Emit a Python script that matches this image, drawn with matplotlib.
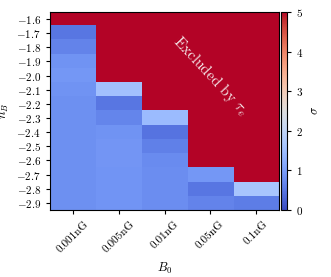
import numpy as np
import matplotlib
matplotlib.use("Agg")
import matplotlib.pyplot as plt

plt.rcParams['mathtext.fontset'] = 'cm'
plt.rcParams['font.family'] = 'serif'
plt.rcParams['font.serif'] = ['cmr10', 'DejaVu Serif']
plt.rcParams['axes.unicode_minus'] = False

b0_labels = ['0.001nG', '0.005nG', '0.01nG', '0.05nG', '0.1nG']
nb_values = [-1.6, -1.7, -1.8, -1.9, -2.0, -2.1, -2.2, -2.3, -2.4, -2.5, -2.6, -2.7, -2.8, -2.9]
EXC = 6.0
# sigma per (n_B row, B0 column)
col_001 = [EXC, 0.5, 0.65, 0.85, 0.9, 0.85, 0.82, 0.82, 0.82, 0.82, 0.82, 0.82, 0.82, 0.82]
col_005 = [EXC, EXC, EXC, EXC, EXC, 1.55, 0.5, 0.68, 0.85, 0.88, 0.88, 0.86, 0.86, 0.86]
col_01 = [EXC, EXC, EXC, EXC, EXC, EXC, EXC, 1.45, 0.45, 0.62, 0.76, 0.78, 0.78, 0.78]
col_05 = [EXC, EXC, EXC, EXC, EXC, EXC, EXC, EXC, EXC, EXC, EXC, 0.9, 0.5, 0.66]
col_1 = [EXC, EXC, EXC, EXC, EXC, EXC, EXC, EXC, EXC, EXC, EXC, EXC, 1.65, 0.58]

data = np.array([col_001, col_005, col_01, col_05, col_1]).T

fig = plt.figure(figsize=(3.31, 2.77), dpi=100)
ax = fig.add_axes([0.151, 0.242, 0.692, 0.715])
cax = fig.add_axes([0.849, 0.242, 0.018, 0.715])

im = ax.imshow(data, cmap='coolwarm', vmin=0, vmax=5, aspect='auto',
               interpolation='nearest')
ax.set_xticks(np.arange(len(b0_labels)))
ax.set_xticklabels(b0_labels, rotation=45, fontsize=8)
ax.set_yticks(np.arange(len(nb_values)))
ax.set_yticklabels([f'$-{abs(v):.1f}$' for v in nb_values], fontsize=8)
ax.set_xlabel('$B_0$', fontsize=9, labelpad=5)
ax.set_ylabel('$n_B$', fontsize=9)
ax.tick_params(length=3, width=0.8)

ax.text(0.70, 0.68, r'Excluded by $\tau_e$', transform=ax.transAxes,
        rotation=-47, color='#f4e4e6', fontsize=11, ha='center', va='center')

cb = fig.colorbar(im, cax=cax)
cb.set_label(r'$\sigma$', fontsize=9)
cb.set_ticks([0, 1, 2, 3, 4, 5])
cb.set_ticklabels(['$0$', '$1$', '$2$', '$3$', '$4$', '$5$'])
cax.tick_params(labelsize=8, length=3)

fig.savefig('out.png', dpi=100)
